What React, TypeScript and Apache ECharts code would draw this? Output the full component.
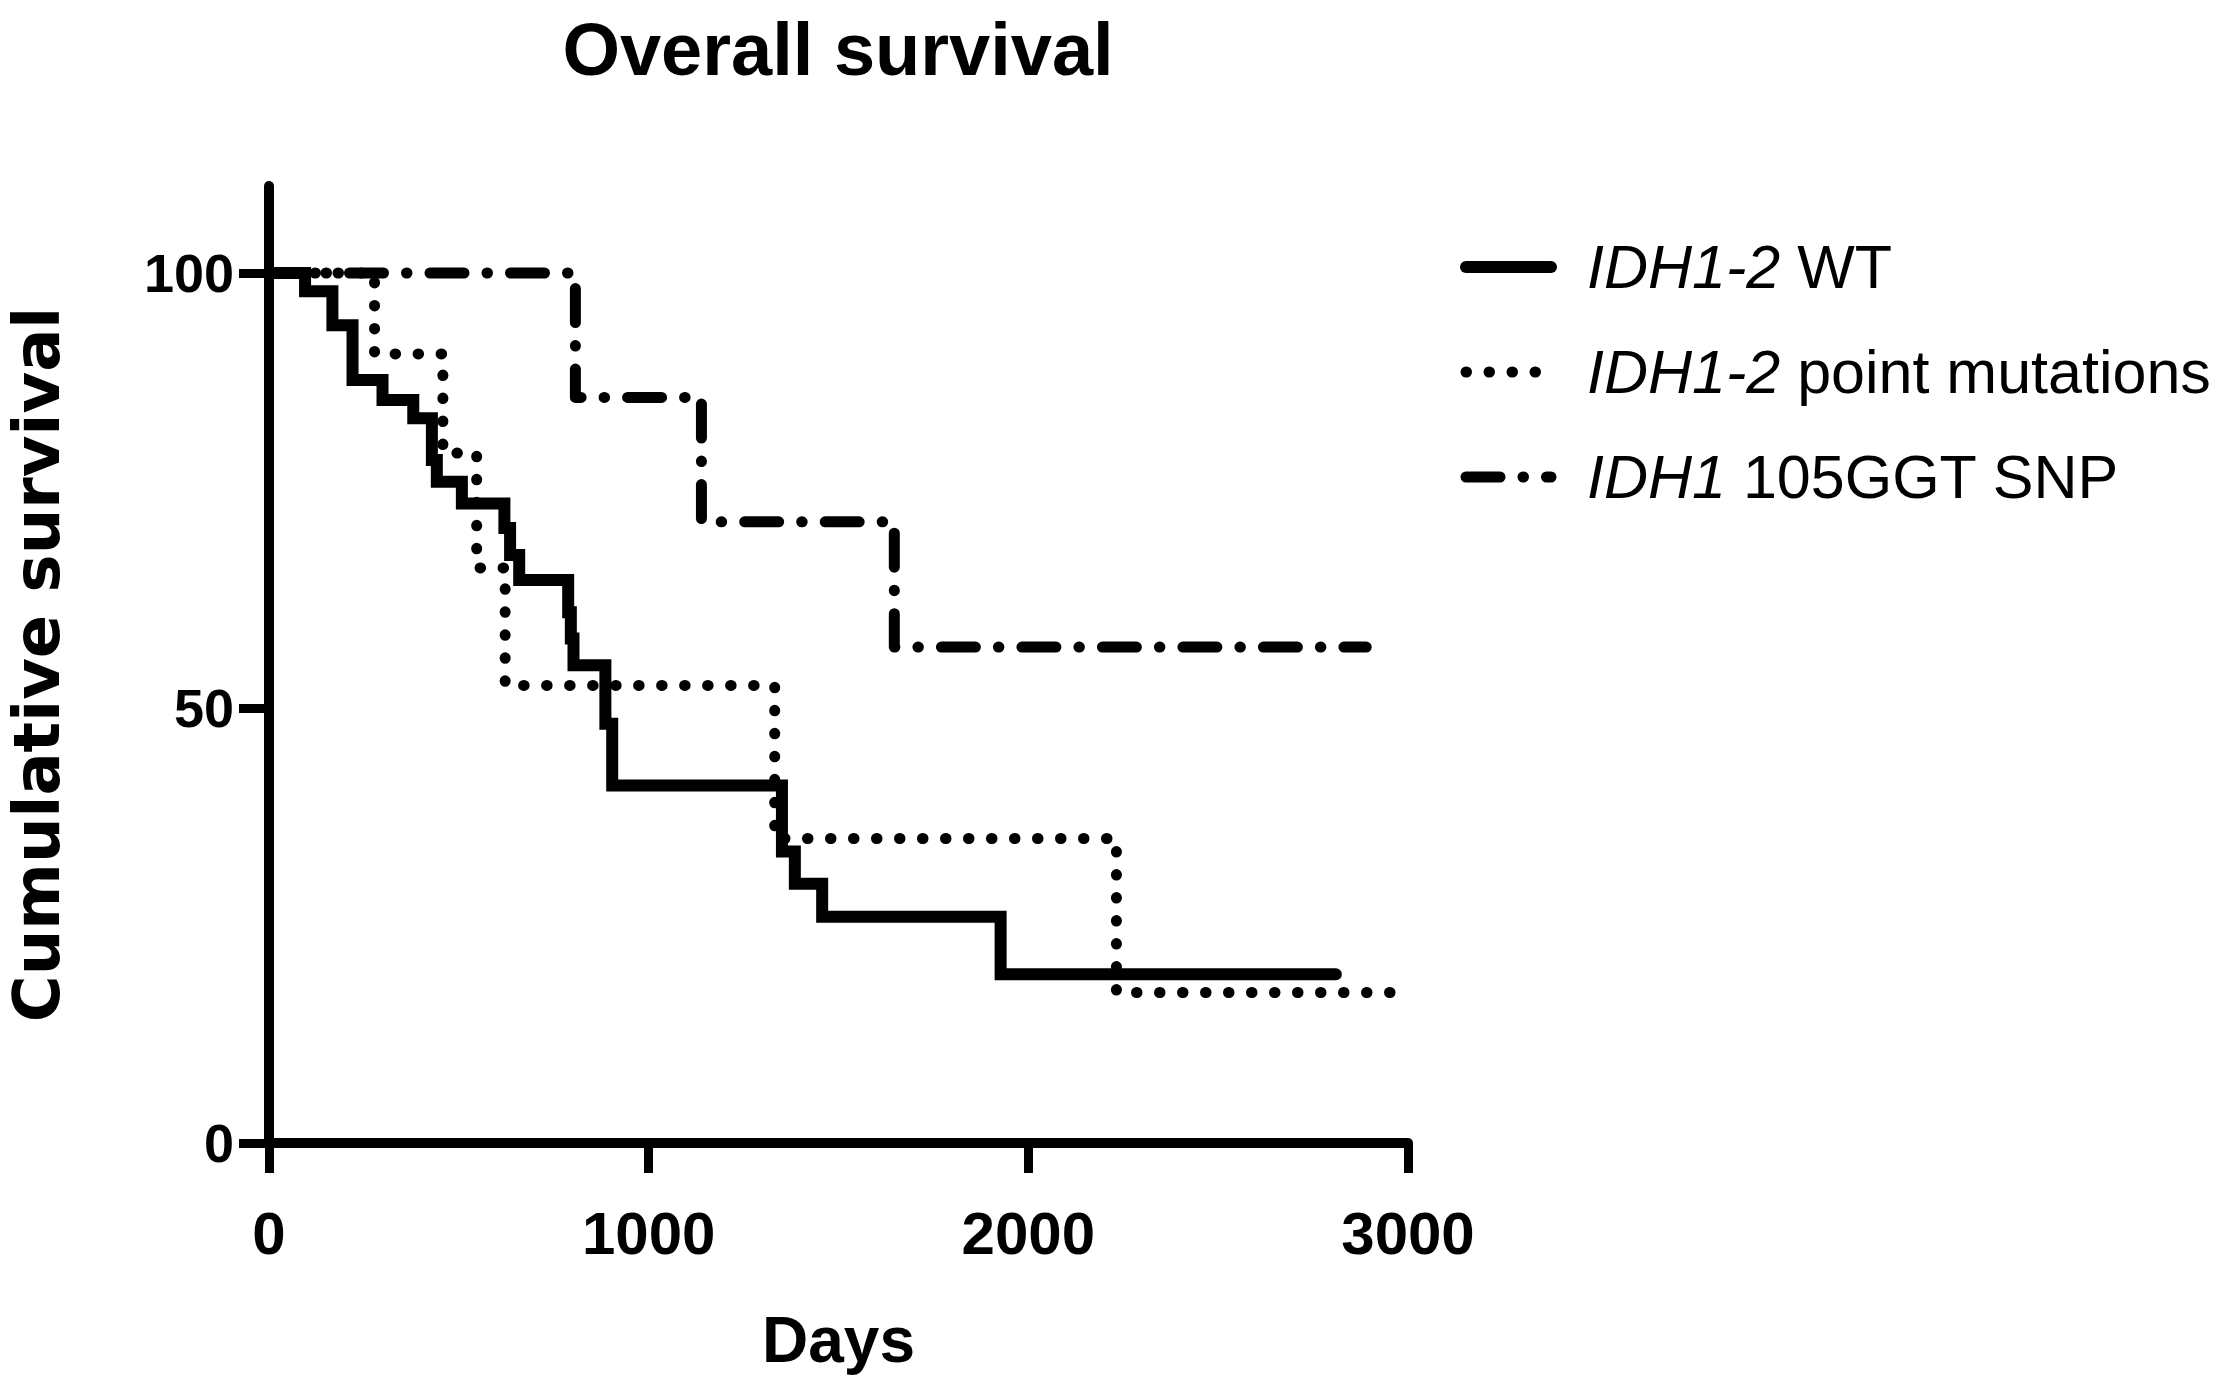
import React, { useEffect, useRef } from "react";
import * as echarts from "echarts";

// ---- data ----
const seriesNames = ["IDH1-2 WT", "IDH1-2 point mutations", "IDH1 105GGT SNP"];
const italicParts = ["IDH1-2", "IDH1-2", "IDH1"];
const plainParts = [" WT", " point mutations", " 105GGT SNP"];

const wtDays = [0, 95, 167, 220, 299, 380, 429, 442, 508, 620, 635, 659, 788, 795, 802, 886, 904, 1351, 1385, 1457, 1927, 2810];
const wtSurvival = [100, 97.9, 94.0, 87.7, 85.4, 83.3, 78.5, 76.0, 73.5, 70.7, 67.6, 64.7, 61.0, 58.0, 54.9, 48.2, 41.1, 33.5, 29.8, 26.0, 19.4, 19.4];

const pmDays = [0, 278, 458, 547, 622, 1332, 2232, 2960];
const pmSurvival = [100, 90.7, 79.3, 66.1, 52.6, 35.0, 17.3, 17.3];

const snpDays = [0, 807, 1139, 1647, 2890];
const snpSurvival = [100, 85.7, 71.4, 57.0, 57.0];

const xTicks = [0, 1000, 2000, 3000];
const yTicks = [0, 50, 100];

const FONT_REG = "'Liberation Sans', Arial, sans-serif";
const FONT_WIDE = "'DejaVu Sans', sans-serif";

function pairs(xs: number[], ys: number[]) {
  return xs.map((x, i) => [x, ys[i]]);
}

export default function App() {
  const ref = useRef<HTMLDivElement>(null);
  useEffect(() => {
    document.body.style.margin = "0";
    if (!ref.current) return;
    const chart = echarts.init(ref.current, null, { renderer: "svg" });
    const option: any = {
      animation: false,
      backgroundColor: "#ffffff",
      title: {
        text: "Overall survival",
        left: 838,
        top: 12,
        padding: 0,
        textAlign: "center",
        textStyle: {
          fontFamily: FONT_REG,
          fontWeight: "bold",
          fontSize: 74,
          color: "#000",
        },
      },
      grid: {
        left: 269,
        top: 186,
        width: 1139,
        height: 957,
        containLabel: false,
        outerBoundsMode: "none",
      },
      legend: {
        orient: "vertical",
        left: 1460,
        top: 232,
        itemWidth: 85,
        itemHeight: 12,
        itemGap: 35,
        padding: 0,
        selectedMode: false,
        data: seriesNames,
        itemStyle: { opacity: 0 },
        lineStyle: { width: "inherit" },
        formatter: (name: string) => {
          const i = seriesNames.indexOf(name);
          return "{i|" + italicParts[i] + "}{r|" + plainParts[i] + "}";
        },
        textStyle: {
          padding: [0, 0, 0, 31],
          lineHeight: 70,
          fontSize: 61,
          fontFamily: FONT_REG,
          color: "#000",
          rich: {
            i: { fontStyle: "italic", fontSize: 61, fontFamily: FONT_REG, color: "#000", lineHeight: 70 },
            r: { fontSize: 61, fontFamily: FONT_REG, color: "#000", lineHeight: 70 },
          },
        },
      },
      xAxis: {
        type: "value",
        min: xTicks[0],
        max: xTicks[xTicks.length - 1],
        interval: 1000,
        name: "Days",
        nameLocation: "middle",
        nameGap: 165,
        nameTextStyle: { fontFamily: FONT_REG, fontWeight: "bold", fontSize: 64, color: "#000" },
        axisLine: { show: true, lineStyle: { color: "#000", width: 10 } },
        axisTick: { show: true, length: 30, lineStyle: { color: "#000", width: 9 } },
        axisLabel: {
          fontFamily: FONT_REG,
          fontWeight: "bold",
          fontSize: 60,
          color: "#000",
          margin: 60,
          formatter: (v: number) => String(v),
        },
        splitLine: { show: false },
      },
      yAxis: {
        type: "value",
        min: 0,
        max: 110,
        interval: 50,
        name: "Cumulative survival",
        nameLocation: "middle",
        nameRotate: 90,
        nameGap: 200,
        nameTextStyle: { fontFamily: FONT_WIDE, fontWeight: "bold", fontSize: 64, color: "#000" },
        axisLine: { show: true, lineStyle: { color: "#000", width: 10 } },
        axisTick: { show: true, length: 30, customValues: yTicks, lineStyle: { color: "#000", width: 9 } },
        axisLabel: {
          customValues: yTicks,
          fontFamily: FONT_REG,
          fontWeight: "bold",
          fontSize: 54,
          color: "#000",
          margin: 35,
          formatter: (v: number) => String(v),
        },
        splitLine: { show: false },
      },
      series: [
        {
          name: seriesNames[0],
          type: "line",
          step: "end",
          symbol: "none",
          data: pairs(wtDays, wtSurvival),
          lineStyle: { color: "#000", width: 12, type: "solid", cap: "round", join: "miter" },
          z: 3,
        },
        {
          name: seriesNames[1],
          type: "line",
          step: "end",
          symbol: "none",
          data: pairs(pmDays, pmSurvival),
          lineStyle: { color: "#000", width: 11, type: [0.5, 22.5], cap: "round", join: "round" },
          z: 4,
        },
        {
          name: seriesNames[2],
          type: "line",
          step: "end",
          symbol: "none",
          data: pairs(snpDays, snpSurvival),
          lineStyle: { color: "#000", width: 11, type: [34, 23, 0.5, 23], cap: "round", join: "round" },
          z: 5,
        },
      ],
    };
    chart.setOption(option);
    return () => chart.dispose();
  }, []);
  return <div ref={ref} style={{ width: 2228, height: 1395 }} />;
}
